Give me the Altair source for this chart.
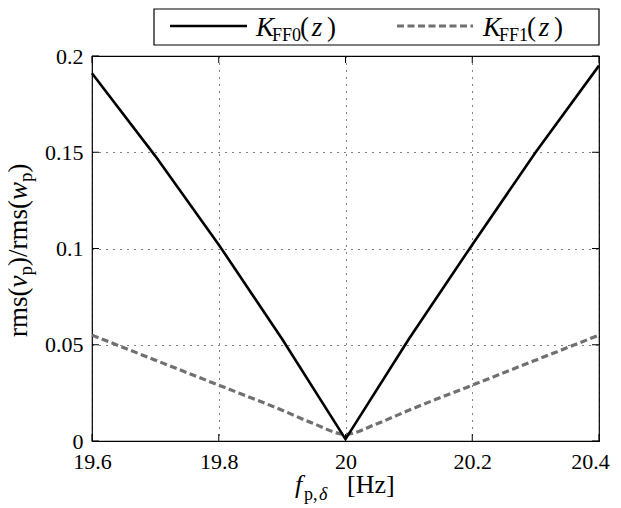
import altair as alt
import pandas as pd

FONT = "Liberation Serif"

# ---- data ----
f_ff0 = [19.6, 19.7, 19.8, 19.9, 20.0, 20.1, 20.2, 20.3, 20.4]
k_ff0 = [0.191, 0.148, 0.102, 0.053, 0.001, 0.053, 0.102, 0.150, 0.195]

f_ff1 = [19.6, 19.7, 19.8, 19.9, 19.95, 20.0, 20.05, 20.1, 20.2, 20.3, 20.4]
k_ff1 = [0.055, 0.042, 0.029, 0.016, 0.009, 0.0035, 0.009, 0.016, 0.029, 0.042, 0.055]

x_ticks = [19.6, 19.8, 20.0, 20.2, 20.4]
y_ticks = [0.0, 0.05, 0.1, 0.15, 0.2]

W, H = 507, 385

df0 = pd.DataFrame({"f": f_ff0, "v": k_ff0})
df1 = pd.DataFrame({"f": f_ff1, "v": k_ff1})
dtx = pd.DataFrame({"f": x_ticks})
dty = pd.DataFrame({"v": y_ticks})
dummy = pd.DataFrame({"a": [0]})

AX = dict(title=None, format="~g", labelFont=FONT, labelFontSize=22, labelColor="black",
          labelFlush=False, domain=False, ticks=False, tickSize=0, grid=True,
          gridDash=[1, 6], gridColor="black", gridWidth=1, gridOpacity=1)

LAST = "datum.value >= 20.39"
X = alt.X("f:Q",
          scale=alt.Scale(domain=[19.6, 20.4], nice=False, zero=False),
          axis=alt.Axis(values=x_ticks, labelPadding=10,
                        labelOffset={"condition": {"test": LAST, "value": -9}, "value": 0},
                        **AX))
Y = alt.Y("v:Q",
          scale=alt.Scale(domain=[0, 0.2], nice=False, zero=False),
          axis=alt.Axis(values=y_ticks, labelPadding=9, **AX))

line0 = alt.Chart(df0).mark_line(color="black", strokeWidth=2.6).encode(x=X, y=Y)
line1 = alt.Chart(df1).mark_line(color="#707070", strokeWidth=3.2, strokeDash=[7, 3.5],
                                 interpolate="monotone").encode(x=X, y=Y)

# inside ticks (MATLAB style)
tk_b = alt.Chart(dtx).mark_rule(color="black", strokeWidth=1).encode(x=X, y=alt.value(H), y2=alt.value(H - 7))
tk_t = alt.Chart(dtx).mark_rule(color="black", strokeWidth=1).encode(x=X, y=alt.value(0), y2=alt.value(7))
tk_l = alt.Chart(dty).mark_rule(color="black", strokeWidth=1).encode(y=Y, x=alt.value(0), x2=alt.value(7))
tk_r = alt.Chart(dty).mark_rule(color="black", strokeWidth=1).encode(y=Y, x=alt.value(W), x2=alt.value(W - 7))


def txt(s, x, y, size, style="normal", align="left", angle=0, baseline="alphabetic"):
    return alt.Chart(dummy).mark_text(
        text=s, font=FONT, fontSize=size, fontStyle=style, align=align,
        baseline=baseline, angle=angle, color="black"
    ).encode(x=alt.value(x), y=alt.value(y))


# legend (box top limited by the page margin)
leg_box = alt.Chart(dummy).mark_rect(fill="white", stroke="black", strokeWidth=1.2).encode(
    x=alt.value(62), x2=alt.value(W), y=alt.value(-47), y2=alt.value(-11))
leg_l0 = alt.Chart(dummy).mark_rule(color="black", strokeWidth=2.6).encode(
    x=alt.value(78), x2=alt.value(155), y=alt.value(-30))
leg_l1 = alt.Chart(dummy).mark_rule(color="#707070", strokeWidth=3.2, strokeDash=[7, 3.5]).encode(
    x=alt.value(305), x2=alt.value(381), y=alt.value(-30))

LB = -20
legend_txt = [
    txt("K", 164, LB, 27, "italic"),
    txt("FF0", 180, LB + 5, 18),
    txt("(", 208, LB, 27),
    txt("z", 225, LB, 27, "italic", align="center"),
    txt(")", 244, LB, 27, align="right"),
    txt("K", 391, LB, 27, "italic"),
    txt("FF1", 407, LB + 5, 18),
    txt("(", 435, LB, 27),
    txt("z", 452, LB, 27, "italic", align="center"),
    txt(")", 471, LB, 27, align="right"),
]

# x-axis title: f_{p,δ} [Hz]
x_title = [
    txt("f", 203, 437, 26, "italic"),
    txt("p,", 212, 444, 18),
    txt("δ", 227, 444, 18, "italic"),
    txt("[Hz]", 255, 437, 26),
]

# y-axis title: rms(v_p)/rms(w_p), rotated
bx = -65
y_title = [
    txt("rms(", bx, 281, 27, angle=270),
    txt("v", bx, 231.5, 27, "italic", angle=270),
    txt("p", bx + 5, 219.5, 19, angle=270),
    txt(")/rms(", bx, 210, 27, angle=270),
    txt("w", bx, 144, 27, "italic", angle=270),
    txt("p", bx + 5, 126, 19, angle=270),
    txt(")", bx, 116.5, 27, angle=270),
]

chart = alt.layer(
    line1, line0, tk_b, tk_t, tk_l, tk_r,
    leg_box, leg_l0, leg_l1, *legend_txt, *x_title, *y_title
).properties(
    width=W, height=H,
    padding={"left": 84, "top": 48, "right": 14, "bottom": 67},
    autosize=alt.AutoSizeParams(type="none"),
).configure(
    font=FONT
).configure_view(
    stroke="black", strokeWidth=1.2
).configure_axis(
    labelFont=FONT, labelFontSize=22, labelColor="black",
)

chart.save("out.html", embed_options={"renderer": "svg", "actions": False})
